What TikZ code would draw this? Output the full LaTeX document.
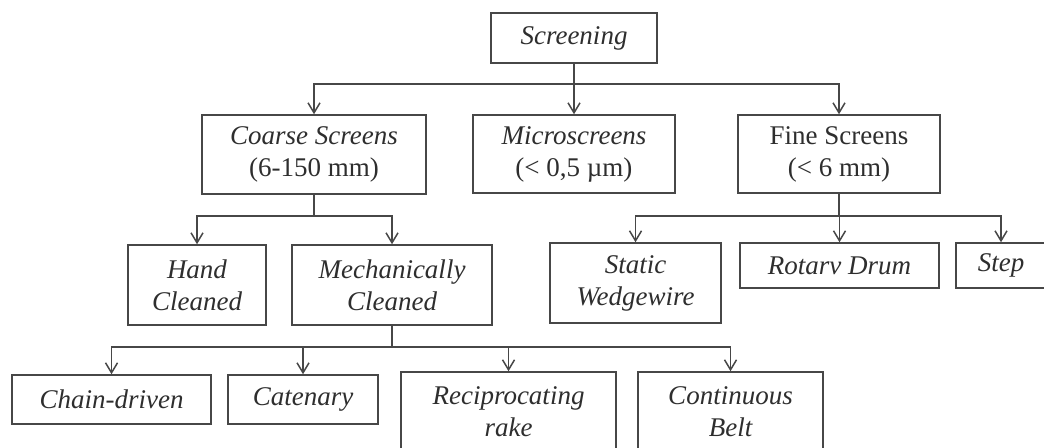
\documentclass[tikz,border=0pt]{standalone}
\usepackage{fontspec}
\setmainfont{Liberation Serif}
\usetikzlibrary{arrows.meta}

\begin{document}
\begin{tikzpicture}[x=0.5pt,y=-0.5pt,
    box/.style={draw=black!72, line width=0.75pt, rectangle, inner sep=0pt, align=center,
      text=black!82, font=\fontsize{13.5}{16}\selectfont\itshape},
    link/.style={draw=black!72, line width=0.75pt},
    >={Straight Barb[length=5pt,width=6pt]}]
        \useasboundingbox (0,0) rectangle (1044,448);
        \clip (0,0) rectangle (1044,448);
        \node[box, minimum width=83pt, minimum height=25pt] (scr) at (574,38) {Screening};
        \node[box, minimum width=112pt, minimum height=39.5pt] (coarse) at (314,154.5) {Coarse Screens\\\upshape(6-150 mm)};
        \node[box, minimum width=101pt, minimum height=39pt] (micro) at (574,154) {Microscreens\\\upshape(< 0,5 µm)};
        \node[box, minimum width=101pt, minimum height=39pt, font=\fontsize{13.5}{16}\selectfont] (fine) at (839,154) {Fine Screens\\(< 6 mm)};
        \node[box, minimum width=69pt, minimum height=40pt] (hand) at (197,285) {Hand\\Cleaned};
        \node[box, minimum width=100pt, minimum height=40pt] (mech) at (392,285) {Mechanically\\Cleaned};
        \node[box, minimum width=85.5pt, minimum height=40pt] (static) at (635.5,283) {Static\\Wedgewire};
        \node[box, minimum width=99.5pt, minimum height=22.5pt] (rotary) at (839.5,265.5) {Rotarv Drum};
        \node[box, minimum width=45pt, minimum height=22.5pt] (stepscr) at (1001,265.5) {Step};
        \node[box, minimum width=99.5pt, minimum height=24.5pt] (chain) at (111.5,399.5) {Chain-driven};
        \node[box, minimum width=75pt, minimum height=24.5pt] (caten) at (303,399.5) {Catenary};
        \node[box, minimum width=107.5pt, minimum height=40pt] (recip) at (508.5,412) {Reciprocating\\rake};
        \node[box, minimum width=92.5pt, minimum height=40pt] (cont) at (730.5,412) {Continuous\\Belt};
        \coordinate (s1) at (574,84);
        \coordinate (c1) at (314,216);
        \coordinate (m1) at (392,347);
        \coordinate (f1) at (839,216);
        \draw[link] (scr) -- (s1);
        \draw[link,->] (s1) -| (coarse);
        \draw[link,->] (s1) -- (micro);
        \draw[link,->] (s1) -| (fine);
        \draw[link] (coarse) -- (c1);
        \foreach \n in {hand,mech}
          \draw[link,->] (c1) -| (\n);
        \draw[link] (mech) -- (m1);
        \foreach \n in {chain,caten,recip,cont}
          \draw[link,->] (m1) -| (\n);
        \draw[link] (fine) -- (f1);
        \foreach \n in {static,rotary,stepscr}
          \draw[link,->] (f1) -| (\n);
\end{tikzpicture}
\end{document}
